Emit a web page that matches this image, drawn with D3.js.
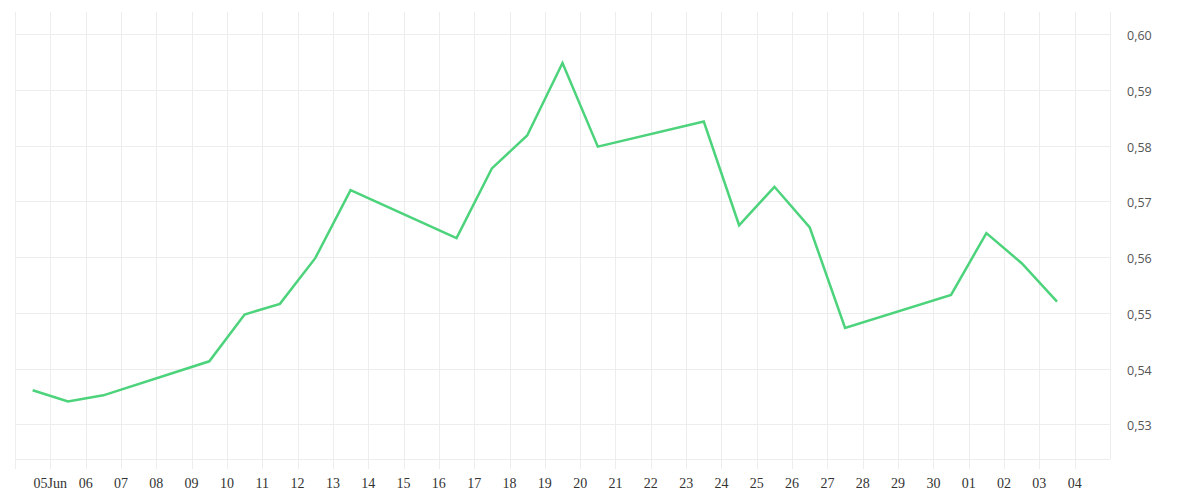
<!DOCTYPE html>
<html>
<head>
<meta charset="utf-8">
<script src="https://cdn.jsdelivr.net/npm/d3@7"></script>
<style>
  body { margin: 0; background: #fff; }
  .grid line { stroke: #ededed; stroke-width: 1; shape-rendering: crispEdges; }
  .xlab { font-family: "Liberation Serif", "DejaVu Serif", serif; font-size: 14px; fill: #333; }
  .ylab { font-family: "Open Sans", "Noto Sans", sans-serif; font-size: 12.5px; fill: #555; }
</style>
</head>
<body>
<svg id="chart" width="1200" height="500"></svg>
<script>
// trading days (2025)
var days = ["2025-06-04","2025-06-05","2025-06-06","2025-06-09","2025-06-10","2025-06-11",
            "2025-06-12","2025-06-13","2025-06-16","2025-06-17","2025-06-18","2025-06-19",
            "2025-06-20","2025-06-23","2025-06-24","2025-06-25","2025-06-26","2025-06-27",
            "2025-06-30","2025-07-01","2025-07-02","2025-07-03"];
var values = [0.5361, 0.5341, 0.5352, 0.5413, 0.5497, 0.5516,
              0.5598, 0.5720, 0.5634, 0.5759, 0.5818, 0.5948,
              0.5798, 0.5843, 0.5657, 0.5726, 0.5653, 0.5473,
              0.5532, 0.5643, 0.5589, 0.5520];

// axis ticks
var xTickDays = ["2025-06-05","2025-06-06","2025-06-07","2025-06-08","2025-06-09","2025-06-10",
                 "2025-06-11","2025-06-12","2025-06-13","2025-06-14","2025-06-15","2025-06-16",
                 "2025-06-17","2025-06-18","2025-06-19","2025-06-20","2025-06-21","2025-06-22",
                 "2025-06-23","2025-06-24","2025-06-25","2025-06-26","2025-06-27","2025-06-28",
                 "2025-06-29","2025-06-30","2025-07-01","2025-07-02","2025-07-03","2025-07-04"];
var xTickLabels = ["05Jun","06","07","08","09","10","11","12","13","14","15","16","17","18","19",
                   "20","21","22","23","24","25","26","27","28","29","30","01","02","03","04"];
var yTicks = [0.53, 0.54, 0.55, 0.56, 0.57, 0.58, 0.59, 0.60];
var yTickLabels = ["0,53","0,54","0,55","0,56","0,57","0,58","0,59","0,60"];

var parse = d3.utcParse("%Y-%m-%d");
var halfDay = 12 * 3600 * 1000;

// plot box (window.top is taken, so own names)
var plotLeft = 15, plotRight = 1110, plotTop = 12, plotBottom = 459;

var svg = d3.select("#chart");

var x = d3.scaleUtc()
  .domain([parse("2025-06-04"), parse("2025-07-05")])
  .range([plotLeft, plotRight]);

var y = d3.scaleLinear()
  .domain([0.52378, 0.60395])
  .range([plotBottom, plotTop]);

var grid = svg.append("g").attr("class", "grid");

// vertical grid, one per day, running a bit below the plot as ticks
var allDays = d3.utcDay.range(parse("2025-06-04"), d3.utcDay.offset(parse("2025-07-05"), 1));
grid.selectAll("line.v")
  .data(allDays)
  .enter().append("line")
    .attr("class", "v")
    .attr("x1", function(d) { return Math.round(x(d)) + 0.5; })
    .attr("x2", function(d) { return Math.round(x(d)) + 0.5; })
    .attr("y1", plotTop)
    .attr("y2", function(d, i) { return i == allDays.length - 1 ? plotBottom : plotBottom + 10; });

// horizontal grid
grid.selectAll("line.h")
  .data(yTicks)
  .enter().append("line")
    .attr("class", "h")
    .attr("x1", plotLeft)
    .attr("x2", plotRight)
    .attr("y1", function(d) { return Math.round(y(d)) + 0.5; })
    .attr("y2", function(d) { return Math.round(y(d)) + 0.5; });

// bottom border
grid.append("line")
  .attr("x1", plotLeft).attr("x2", plotRight)
  .attr("y1", plotBottom + 0.5).attr("y2", plotBottom + 0.5);

// x labels
svg.append("g").selectAll("text")
  .data(xTickDays)
  .enter().append("text")
    .attr("class", "xlab")
    .attr("x", function(d) { return x(parse(d)); })
    .attr("y", 488)
    .attr("text-anchor", "middle")
    .text(function(d, i) { return xTickLabels[i]; });

// y labels on the right
svg.append("g").selectAll("text")
  .data(yTicks)
  .enter().append("text")
    .attr("class", "ylab")
    .attr("x", 1127)
    .attr("y", function(d) { return y(d) + 6; })
    .text(function(d, i) { return yTickLabels[i]; });

// the line
var line = d3.line()
  .x(function(d) { return x(new Date(parse(d[0]).getTime() + halfDay)); })
  .y(function(d) { return y(d[1]); });

svg.append("path")
  .datum(d3.zip(days, values))
  .attr("fill", "none")
  .attr("stroke", "#4cd37b")
  .attr("stroke-width", 2.5)
  .attr("stroke-linejoin", "miter")
  .attr("d", line);
</script>
</body>
</html>
